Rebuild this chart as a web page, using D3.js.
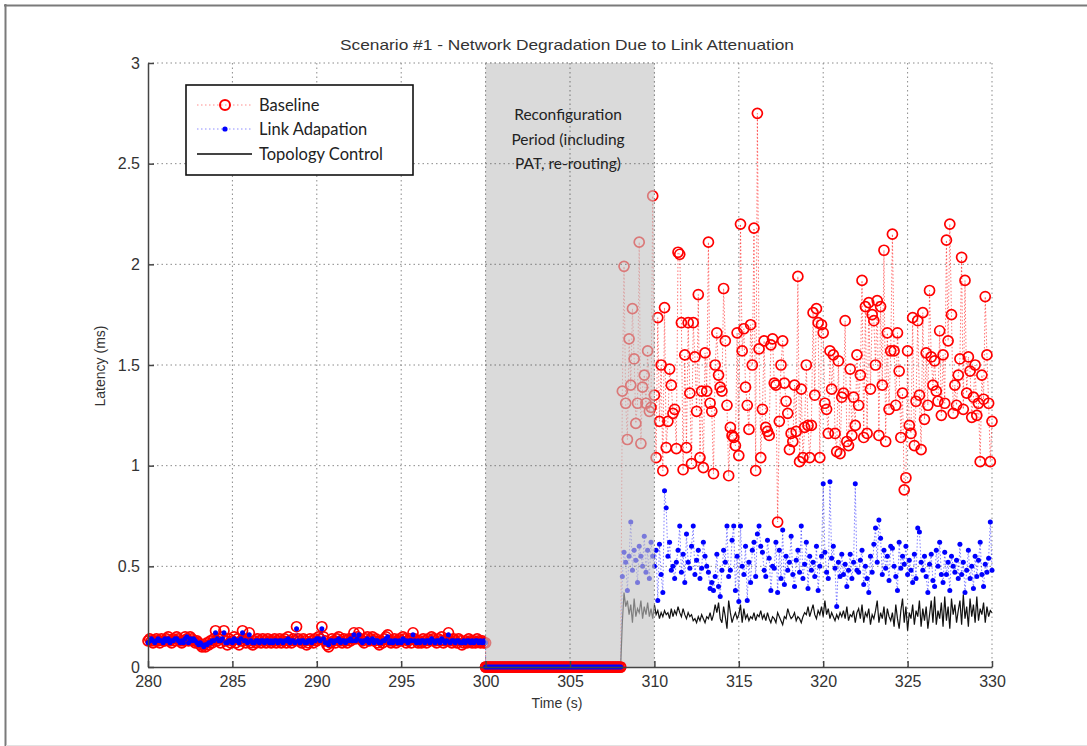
<!DOCTYPE html>
<html>
<head>
<meta charset="utf-8">
<script src="https://cdn.jsdelivr.net/npm/d3@7"></script>
<style>
  html, body { margin: 0; padding: 0; background: #fff; }
  svg { display: block; }
</style>
</head>
<body>
<svg id="chart" width="1087" height="746"></svg>
<script>
// ---------------- DATA ----------------
const title = "Scenario #1 - Network Degradation Due to Link Attenuation";
const xLabel = "Time (s)";
const yLabel = "Latency (ms)";
const seriesNames = ["Baseline", "Link Adapation", "Topology Control"];
const xTicks = [280, 285, 290, 295, 300, 305, 310, 315, 320, 325, 330];
const yTicks = [0, 0.5, 1, 1.5, 2, 2.5, 3];
const annotation = ["Reconfiguration", "Period (including", "PAT, re-routing)"];
const reconfigPeriod = [300, 310];

// pre-degradation samples: 280.0 .. 300.0 every 0.1 s
const preStart = 280, preStep = 0.1;
const baselinePre = [
  0.13,0.14,0.13,0.12,0.13,0.14,0.13,0.12,0.14,0.13,
  0.13,0.14,0.15,0.13,0.12,0.14,0.13,0.15,0.14,0.13,
  0.12,0.13,0.15,0.14,0.13,0.15,0.14,0.13,0.12,0.13,
  0.12,0.11,0.10,0.11,0.10,0.12,0.11,0.13,0.12,0.14,
  0.18,0.13,0.14,0.12,0.15,0.18,0.13,0.11,0.14,0.12,
  0.13,0.15,0.12,0.14,0.11,0.13,0.18,0.14,0.12,0.13,
  0.17,0.12,0.11,0.13,0.12,0.14,0.13,0.12,0.14,0.13,
  0.12,0.14,0.13,0.12,0.13,0.14,0.12,0.13,0.14,0.12,
  0.13,0.14,0.12,0.15,0.13,0.12,0.14,0.13,0.20,0.14,
  0.13,0.12,0.14,0.13,0.11,0.12,0.14,0.13,0.12,0.14,
  0.13,0.15,0.14,0.20,0.15,0.13,0.11,0.10,0.12,0.14,
  0.13,0.12,0.14,0.15,0.13,0.12,0.14,0.13,0.12,0.14,
  0.13,0.14,0.17,0.14,0.15,0.17,0.14,0.13,0.12,0.14,
  0.15,0.13,0.14,0.15,0.13,0.14,0.12,0.11,0.13,0.12,
  0.14,0.15,0.16,0.13,0.12,0.13,0.14,0.12,0.13,0.14,
  0.13,0.15,0.14,0.12,0.13,0.14,0.12,0.17,0.14,0.13,
  0.12,0.13,0.12,0.14,0.13,0.12,0.14,0.13,0.15,0.14,
  0.13,0.12,0.14,0.13,0.15,0.12,0.13,0.14,0.17,0.13,
  0.12,0.14,0.13,0.12,0.14,0.13,0.11,0.12,0.13,0.12,
  0.14,0.13,0.12,0.13,0.12,0.14,0.13,0.12,0.13,0.12,
  0.12
];
const linkPre = [
  0.12,0.13,0.14,0.13,0.12,0.13,0.14,0.13,0.13,0.12,
  0.14,0.13,0.14,0.12,0.13,0.13,0.14,0.14,0.13,0.12,
  0.13,0.12,0.14,0.15,0.12,0.14,0.13,0.14,0.13,0.12,
  0.11,0.12,0.11,0.10,0.11,0.11,0.12,0.12,0.13,0.13,
  0.17,0.14,0.13,0.13,0.14,0.17,0.12,0.12,0.13,0.13,
  0.12,0.14,0.13,0.13,0.12,0.14,0.17,0.13,0.13,0.12,
  0.16,0.13,0.12,0.12,0.13,0.13,0.12,0.13,0.13,0.12,
  0.13,0.13,0.12,0.13,0.12,0.13,0.13,0.12,0.13,0.13,
  0.12,0.13,0.13,0.14,0.12,0.13,0.13,0.12,0.19,0.13,
  0.12,0.13,0.13,0.12,0.12,0.13,0.13,0.12,0.13,0.13,
  0.14,0.14,0.13,0.19,0.14,0.12,0.12,0.11,0.13,0.13,
  0.12,0.13,0.13,0.14,0.12,0.13,0.13,0.12,0.13,0.13,
  0.14,0.13,0.16,0.13,0.14,0.16,0.13,0.12,0.13,0.13,
  0.14,0.12,0.13,0.14,0.12,0.13,0.13,0.12,0.12,0.13,
  0.13,0.14,0.15,0.12,0.13,0.12,0.13,0.13,0.12,0.13,
  0.12,0.14,0.13,0.13,0.12,0.13,0.13,0.16,0.13,0.12,
  0.13,0.12,0.13,0.13,0.12,0.13,0.13,0.12,0.14,0.13,
  0.12,0.13,0.13,0.12,0.14,0.13,0.12,0.13,0.16,0.12,
  0.13,0.13,0.12,0.13,0.13,0.12,0.12,0.13,0.12,0.13,
  0.13,0.12,0.13,0.12,0.13,0.13,0.12,0.13,0.12,0.13,
  0.12
];

// outage samples: 300.0 .. 308.0 every 0.1 s (all zero)
const zeroStart = 300, zeroStep = 0.1;
const outageValues = [
  0,0,0,0,0,0,0,0,0,0, 0,0,0,0,0,0,0,0,0,0, 0,0,0,0,0,0,0,0,0,0, 0,0,0,0,0,0,0,0,0,0,
  0,0,0,0,0,0,0,0,0,0, 0,0,0,0,0,0,0,0,0,0, 0,0,0,0,0,0,0,0,0,0, 0,0,0,0,0,0,0,0,0,0,
  0
];

// degraded samples: 308.1 .. 330.0 every 0.1 s
const postStart = 308.1, postStep = 0.1;
const baselinePost = [
  1.37,1.99,1.31,1.13,1.63,1.40,1.78,1.53,1.21,1.31,
  2.11,1.11,1.39,1.45,1.31,1.57,1.27,1.29,2.34,1.35,
  1.04,1.735,1.22,1.50,0.975,1.785,1.09,1.22,1.48,1.40,
  1.26,1.28,1.085,2.06,2.05,1.71,0.98,1.55,1.09,1.71,
  1.36,1.01,1.71,1.54,1.27,1.85,1.04,1.37,0.99,1.56,
  1.37,2.11,1.31,1.27,0.96,1.50,1.66,1.45,1.39,1.37,
  1.88,1.62,1.30,0.95,1.19,1.15,1.14,1.10,1.66,1.05,
  2.20,1.57,1.68,1.39,1.30,1.18,1.70,1.50,2.18,0.975,
  2.75,1.58,1.04,1.28,1.62,1.19,1.17,1.15,1.60,1.63,
  1.41,1.40,0.72,1.22,1.50,1.62,1.41,1.32,1.26,1.08,
  1.16,1.12,1.40,1.17,1.94,1.02,1.38,1.04,1.19,1.50,
  1.20,1.04,1.20,1.76,1.35,1.78,1.71,1.04,1.70,1.66,
  1.31,1.28,1.16,1.57,1.38,1.55,1.16,1.07,1.52,1.06,
  1.34,1.36,1.72,1.12,1.10,1.48,1.15,1.34,1.20,1.55,
  1.30,1.45,1.92,1.14,1.79,1.16,1.81,1.38,1.75,1.72,
  1.50,1.82,1.15,1.79,1.40,2.07,1.12,1.66,1.28,1.57,
  2.15,1.57,1.30,1.66,1.47,1.14,1.36,0.88,0.94,1.57,
  1.20,1.16,1.735,1.10,1.32,1.72,1.35,1.08,1.76,1.23,
  1.56,1.30,1.87,1.54,1.40,1.52,1.37,1.32,1.67,1.25,
  1.55,1.31,2.12,1.62,2.20,1.75,1.26,1.40,1.30,1.45,
  1.53,2.035,1.28,1.92,1.36,1.54,1.47,1.24,1.34,1.50,
  1.25,1.31,1.02,1.45,1.33,1.84,1.55,1.31,1.02,1.22
];
const linkPost = [
  0.45,0.57,0.52,0.38,0.55,0.72,0.48,0.58,0.53,0.42,
  0.60,0.55,0.50,0.65,0.47,0.58,0.44,0.62,0.55,0.50,
  0.58,0.33,0.61,0.46,0.37,0.875,0.79,0.55,0.62,0.48,
  0.50,0.44,0.52,0.58,0.70,0.47,0.56,0.42,0.66,0.52,
  0.49,0.60,0.70,0.46,0.53,0.58,0.44,0.49,0.62,0.55,
  0.50,0.47,0.39,0.42,0.38,0.45,0.56,0.40,0.35,0.48,
  0.58,0.52,0.70,0.45,0.48,0.63,0.70,0.38,0.55,0.325,
  0.70,0.50,0.46,0.60,0.33,0.52,0.42,0.58,0.62,0.45,
  0.66,0.70,0.60,0.57,0.48,0.45,0.63,0.54,0.38,0.50,
  0.49,0.62,0.37,0.58,0.44,0.68,0.41,0.55,0.48,0.52,
  0.65,0.46,0.40,0.53,0.58,0.47,0.70,0.44,0.51,0.62,
  0.39,0.55,0.48,0.52,0.45,0.60,0.38,0.50,0.55,0.91,
  0.57,0.47,0.44,0.92,0.54,0.60,0.49,0.30,0.52,0.45,
  0.56,0.46,0.51,0.40,0.48,0.56,0.44,0.52,0.91,0.48,
  0.47,0.53,0.58,0.41,0.50,0.44,0.37,0.55,0.47,0.61,
  0.69,0.52,0.73,0.64,0.46,0.58,0.49,0.55,0.43,0.60,
  0.59,0.50,0.45,0.38,0.62,0.49,0.55,0.51,0.60,0.46,
  0.53,0.48,0.42,0.56,0.44,0.69,0.67,0.52,0.48,0.55,
  0.45,0.37,0.51,0.56,0.43,0.40,0.58,0.50,0.62,0.46,
  0.42,0.57,0.46,0.52,0.38,0.55,0.50,0.47,0.53,0.44,
  0.61,0.46,0.52,0.37,0.48,0.58,0.44,0.50,0.39,0.55,
  0.45,0.53,0.62,0.46,0.40,0.51,0.47,0.54,0.72,0.48
];
const topologyPost = [
  0.22,0.37,0.30,0.33,0.26,0.31,0.22,0.34,0.25,0.29,
  0.27,0.33,0.24,0.30,0.26,0.32,0.25,0.29,0.24,0.31,
  0.26,0.28,0.24,0.27,0.25,0.28,0.26,0.27,0.24,0.29,
  0.25,0.28,0.26,0.30,0.27,0.25,0.29,0.26,0.24,0.27,
  0.25,0.26,0.23,0.24,0.22,0.25,0.23,0.26,0.24,0.22,
  0.25,0.24,0.27,0.23,0.26,0.31,0.27,0.32,0.24,0.22,
  0.30,0.25,0.19,0.33,0.27,0.22,0.25,0.27,0.24,0.26,
  0.31,0.22,0.29,0.24,0.26,0.23,0.25,0.24,0.27,0.23,
  0.26,0.25,0.28,0.24,0.26,0.23,0.27,0.24,0.22,0.25,
  0.24,0.22,0.27,0.25,0.23,0.21,0.25,0.24,0.29,0.26,
  0.24,0.25,0.27,0.23,0.25,0.24,0.22,0.25,0.27,0.26,
  0.30,0.25,0.28,0.31,0.26,0.24,0.28,0.26,0.30,0.25,
  0.33,0.26,0.29,0.24,0.27,0.25,0.23,0.26,0.24,0.27,
  0.25,0.28,0.24,0.30,0.23,0.26,0.25,0.28,0.22,0.27,
  0.29,0.24,0.31,0.22,0.27,0.25,0.29,0.21,0.26,0.24,
  0.28,0.33,0.22,0.27,0.24,0.30,0.21,0.29,0.25,0.23,
  0.27,0.20,0.31,0.24,0.19,0.28,0.34,0.22,0.30,0.18,
  0.27,0.24,0.31,0.21,0.28,0.25,0.33,0.20,0.29,0.23,
  0.30,0.19,0.26,0.33,0.22,0.35,0.21,0.28,0.24,0.32,
  0.20,0.35,0.23,0.30,0.19,0.34,0.26,0.31,0.22,0.28,
  0.33,0.21,0.36,0.24,0.30,0.20,0.34,0.25,0.31,0.22,
  0.35,0.23,0.29,0.26,0.32,0.22,0.30,0.25,0.28,0.27
];

// ---------------- BUILD ----------------
const toPts = (vals, start, step) => vals.map((v, i) => ({ t: +(start + i * step).toFixed(2), v }));
const basePre = toPts(baselinePre, preStart, preStep);
const baseZ   = toPts(outageValues, zeroStart, zeroStep);
const basePo  = toPts(baselinePost, postStart, postStep);
const linkP   = toPts(linkPre, preStart, preStep);
const linkZ   = toPts(outageValues, zeroStart, zeroStep);
const linkPo  = toPts(linkPost, postStart, postStep);
const topoZ   = toPts(outageValues, zeroStart, zeroStep);
const topoPo  = toPts(topologyPost, postStart, postStep);

const baselineAll = basePre.concat(baseZ, basePo);
const linkAll = linkP.concat(linkZ, linkPo);
const topoAll = topoZ.concat(topoPo);

const svg = d3.select("#chart");
const W = 1087, H = 746;
const plot = { left: 148, right: 992, top: 63, bottom: 667 };

const x = d3.scaleLinear().domain([280, 330]).range([plot.left, plot.right]);
const y = d3.scaleLinear().domain([0, 3]).range([plot.bottom, plot.top]);

// outer frame
svg.append("rect").attr("width", W).attr("height", H).attr("fill", "#fff");
svg.append("line").attr("x1", 4).attr("x2", W).attr("y1", 5.5).attr("y2", 5.5)
  .attr("stroke", "#7a7a7a").attr("stroke-width", 2);
svg.append("line").attr("x1", 5.5).attr("x2", 5.5).attr("y1", 4).attr("y2", H)
  .attr("stroke", "#7a7a7a").attr("stroke-width", 2);
svg.append("line").attr("x1", 6).attr("x2", W).attr("y1", 745.5).attr("y2", 745.5)
  .attr("stroke", "#e2e2e2").attr("stroke-width", 1);

const gridStyle = sel => sel.attr("stroke", "#8a8a8a").attr("stroke-width", 1)
  .attr("stroke-dasharray", "1.5,3");

function drawGrid(g) {
  g.selectAll(".vg").data(xTicks.filter(d => d !== 280)).join("line")
    .attr("x1", d => x(d)).attr("x2", d => x(d))
    .attr("y1", plot.top).attr("y2", plot.bottom).call(gridStyle);
  g.selectAll(".hg").data(yTicks.filter(d => d !== 0)).join("line")
    .attr("x1", plot.left).attr("x2", plot.right)
    .attr("y1", d => y(d)).attr("y2", d => y(d)).call(gridStyle);
}
drawGrid(svg.append("g"));

// series drawing helpers
const lineGen = d3.line().x(d => x(d.t)).y(d => y(d.v));

function drawBaseline(g, pts, withLine) {
  if (withLine) g.append("path").datum(pts).attr("d", lineGen).attr("fill", "none")
    .attr("stroke", "#ff0000").attr("stroke-opacity", 0.55).attr("stroke-width", 1)
    .attr("stroke-dasharray", "1.5,2");
  g.selectAll("circle.b").data(pts).join("circle").attr("class", "b")
    .attr("cx", d => x(d.t)).attr("cy", d => y(d.v)).attr("r", 5)
    .attr("fill", "none").attr("stroke", "#ff0000").attr("stroke-width", 1.7);
}
function drawLink(g, pts, withLine) {
  if (withLine) g.append("path").datum(pts).attr("d", lineGen).attr("fill", "none")
    .attr("stroke", "#0000ff").attr("stroke-opacity", 0.5).attr("stroke-width", 1)
    .attr("stroke-dasharray", "1.5,2");
  g.selectAll("circle.l").data(pts).join("circle").attr("class", "l")
    .attr("cx", d => x(d.t)).attr("cy", d => y(d.v)).attr("r", 2.5)
    .attr("fill", "#0000ff");
}
function drawTopo(g, pts) {
  g.append("path").datum(pts).attr("d", lineGen).attr("fill", "none")
    .attr("stroke", "#111").attr("stroke-width", 1.2);
}

const dataG = svg.append("g");
drawBaseline(dataG.append("g"), baselineAll, true);
drawLink(dataG.append("g"), linkAll, true);
drawTopo(dataG.append("g"), topoAll);

// reconfiguration overlay (semi-transparent, above data)
const ov = svg.append("g");
ov.append("rect")
  .attr("x", x(reconfigPeriod[0])).attr("y", y(3))
  .attr("width", x(reconfigPeriod[1]) - x(reconfigPeriod[0]))
  .attr("height", y(0) - y(3))
  .attr("fill", "#c4c4c4").attr("fill-opacity", 0.62);
// grid visible over overlay
svg.append("clipPath").attr("id", "ovclip").append("rect")
  .attr("x", x(reconfigPeriod[0]) - 1).attr("y", y(3) - 1)
  .attr("width", x(reconfigPeriod[1]) - x(reconfigPeriod[0]) + 2)
  .attr("height", y(0) - y(3) + 2);
drawGrid(svg.append("g").attr("clip-path", "url(#ovclip)"));

// zero-valued outage markers on top
const zg = svg.append("g");
drawBaseline(zg.append("g"), baseZ, false);
drawLink(zg.append("g"), linkZ, false);

// annotation text
const ann = svg.append("text").attr("text-anchor", "middle")
  .attr("font-family", "Lato, 'Open Sans', sans-serif").attr("font-size", 15.5)
  .attr("fill", "#222");
annotation.forEach((s, i) => ann.append("tspan").attr("x", 568).attr("y", 120 + i * 24.5).text(s));

// axes
const axisFont = "'Liberation Sans', Arial, sans-serif";
const xAxis = svg.append("g").attr("transform", `translate(0,${plot.bottom})`)
  .call(d3.axisBottom(x).tickValues(xTicks).tickFormat(d3.format("d"))
    .tickSizeInner(-6).tickSizeOuter(0).tickPadding(9));
const yAxis = svg.append("g").attr("transform", `translate(${plot.left},0)`)
  .call(d3.axisLeft(y).tickValues(yTicks).tickFormat(d => String(d))
    .tickSizeInner(-6).tickSizeOuter(0).tickPadding(8));
[xAxis, yAxis].forEach(a => {
  a.select(".domain").attr("stroke", "#444").attr("stroke-width", 1.5);
  a.selectAll(".tick line").attr("stroke", "#444").attr("stroke-width", 1.5);
  a.selectAll(".tick text").attr("font-family", axisFont).attr("font-size", 16)
    .attr("fill", "#333");
});

// titles
svg.append("text").attr("x", 567).attr("y", 50).attr("text-anchor", "middle")
  .attr("font-family", axisFont).attr("font-size", 15).attr("fill", "#333")
  .attr("textLength", 454).attr("lengthAdjust", "spacingAndGlyphs").text(title);
svg.append("text").attr("x", 557).attr("y", 708).attr("text-anchor", "middle")
  .attr("font-family", axisFont).attr("font-size", 14).attr("fill", "#333").text(xLabel);
svg.append("text").attr("transform", "translate(105,366) rotate(-90)").attr("text-anchor", "middle")
  .attr("font-family", axisFont).attr("font-size", 14).attr("fill", "#333").text(yLabel);

// legend
const lg = svg.append("g");
lg.append("rect").attr("x", 186).attr("y", 85).attr("width", 227).attr("height", 90)
  .attr("fill", "#fff").attr("stroke", "#111").attr("stroke-width", 1.6);
const ly = [105, 129, 154];
const lx0 = 197, lx1 = 252, lmx = 225, ltx = 259;
// baseline
lg.append("line").attr("x1", lx0).attr("x2", lx1).attr("y1", ly[0]).attr("y2", ly[0])
  .attr("stroke", "#ff0000").attr("stroke-opacity", 0.45).attr("stroke-dasharray", "1.5,2.5");
lg.append("circle").attr("cx", lmx).attr("cy", ly[0]).attr("r", 5).attr("fill", "none")
  .attr("stroke", "#ff0000").attr("stroke-width", 2);
// link
lg.append("line").attr("x1", lx0).attr("x2", lx1).attr("y1", ly[1]).attr("y2", ly[1])
  .attr("stroke", "#0000ff").attr("stroke-opacity", 0.45).attr("stroke-dasharray", "1.5,2.5");
lg.append("circle").attr("cx", lmx).attr("cy", ly[1]).attr("r", 2.6).attr("fill", "#0000ff");
// topology
lg.append("line").attr("x1", lx0).attr("x2", lx1).attr("y1", ly[2]).attr("y2", ly[2])
  .attr("stroke", "#444").attr("stroke-width", 1.8);
seriesNames.forEach((s, i) => lg.append("text").attr("x", ltx).attr("y", ly[i] + 5.5)
  .attr("font-family", "Lato, 'Open Sans', sans-serif").attr("font-size", 16.5)
  .attr("fill", "#222").text(s));
</script>
</body>
</html>
